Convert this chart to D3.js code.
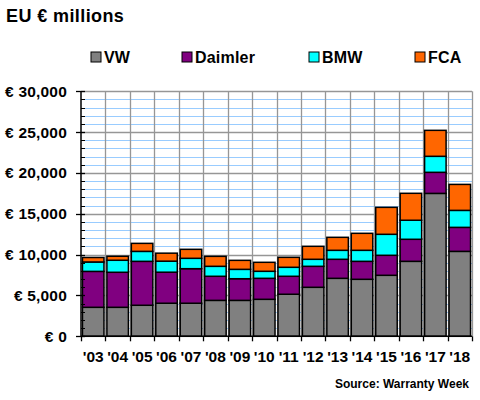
<!DOCTYPE html>
<html><head><meta charset="utf-8">
<script src="https://cdn.jsdelivr.net/npm/d3@7"></script>
<style>body{margin:0;background:#fff}svg{display:block}text{font-family:"Liberation Sans",Arial,sans-serif;font-weight:bold}</style>
</head><body><svg id="c" width="480" height="400"></svg>
<script>
const years = ["'03","'04","'05","'06","'07","'08","'09","'10","'11","'12","'13","'14","'15","'16","'17","'18"];
const vw      = [3550,3550,3800,4050,4050,4400,4400,4530,5150,6000,7100,6980,7470,9180,17500,10400];
const daimler = [4400,4290,5380,3800,4230,2950,2650,2570,2200,2570,2330,2200,2450,2700,2580,2940];
const bmw     = [1150,1470,1220,1350,1270,1220,1150, 860,1100, 860,1100,1350,2570,2330,1960,2080];
const fca     = [ 550, 490, 980, 980,1100,1220,1100,1100,1220,1590,1590,2080,3300,3300,3180,3180];
const seriesNames = ["VW","Daimler","BMW","FCA"];
const colors = ["#808080","#800080","#00FFFF","#FF6600"];
const yTicks = [0,5000,10000,15000,20000,25000,30000];

const svg = d3.select("#c");
const L=81, R=472, T=91.3, B=336.3;
const x = d3.scaleBand().domain(years).range([L,R]).paddingInner(0.12).paddingOuter(0.06);
const xb = d3.scaleBand().domain(years).range([L,R]);
const y = d3.scaleLinear().domain([0,30000]).range([B,T]);

const table = years.map((yr,i)=>({year:yr,VW:vw[i],Daimler:daimler[i],BMW:bmw[i],FCA:fca[i]}));
const stack = d3.stack().keys(seriesNames)(table);

// minor gridlines
const minor = d3.range(1000,30001,1000).filter(v=>v%5000!==0);
svg.append("g").selectAll("line").data(minor).join("line")
  .attr("x1",L).attr("x2",R).attr("y1",d=>Math.round(y(d))+0.5).attr("y2",d=>Math.round(y(d))+0.5)
  .attr("stroke","#99CCFF").attr("stroke-width",1);
// vertical gridlines
svg.append("g").selectAll("line").data(years).join("line")
  .attr("x1",(d,i)=>Math.round(L+(i+1)*xb.bandwidth())+0.5).attr("x2",(d,i)=>Math.round(L+(i+1)*xb.bandwidth())+0.5)
  .attr("y1",T).attr("y2",B).attr("stroke","#969696").attr("stroke-width",1.3);
// major gridlines
svg.append("g").selectAll("line").data(yTicks.filter(v=>v>0)).join("line")
  .attr("x1",L).attr("x2",R).attr("y1",d=>Math.round(y(d))+0.5).attr("y2",d=>Math.round(y(d))+0.5)
  .attr("stroke","#969696").attr("stroke-width",1.3);

// bars
svg.append("g").selectAll("g").data(stack).join("g")
  .attr("fill",(d,i)=>colors[i])
  .selectAll("rect").data(d=>d).join("rect")
  .attr("x",d=>x(d.data.year)).attr("width",x.bandwidth())
  .attr("y",d=>y(d[1])).attr("height",d=>y(d[0])-y(d[1]))
  .attr("stroke","#000").attr("stroke-width",1.5);

// y axis
const ya = svg.append("g");
ya.append("line").attr("x1",L).attr("x2",L).attr("y1",T).attr("y2",B).attr("stroke","#000").attr("stroke-width",1.5);
ya.selectAll(".mn").data(minor).join("line").attr("class","mn")
  .attr("x1",L).attr("x2",L+4).attr("y1",d=>Math.round(y(d))+0.5).attr("y2",d=>Math.round(y(d))+0.5).attr("stroke","#000");
ya.selectAll(".mj").data(yTicks).join("line").attr("class","mj")
  .attr("x1",L-5).attr("x2",L+4).attr("y1",d=>Math.round(y(d))+0.5).attr("y2",d=>Math.round(y(d))+0.5).attr("stroke","#000").attr("stroke-width",1.3);
ya.selectAll("text").data(yTicks).join("text")
  .attr("x",67).attr("y",d=>y(d)+5.5).attr("text-anchor","end").attr("font-size",15.5).attr("letter-spacing",0.2)
  .text(d=>"€ "+d3.format(",")(d));

// x axis
const xa = svg.append("g");
xa.append("line").attr("x1",L).attr("x2",R).attr("y1",B).attr("y2",B).attr("stroke","#000").attr("stroke-width",1.5);
xa.selectAll(".tk").data(d3.range(0,years.length+1)).join("line").attr("class","tk")
  .attr("x1",d=>Math.round(L+d*xb.bandwidth())+0.5).attr("x2",d=>Math.round(L+d*xb.bandwidth())+0.5)
  .attr("y1",B).attr("y2",B+5).attr("stroke","#000").attr("stroke-width",1.3);
xa.selectAll("text").data(years).join("text")
  .attr("x",d=>xb(d)+xb.bandwidth()/2).attr("y",362).attr("text-anchor","middle").attr("font-size",15.5)
  .text(d=>d);

// title
svg.append("text").attr("x",6).attr("y",22).attr("font-size",18).attr("letter-spacing",0.4).text("EU € millions");
// legend
const legX = [91,182,309,415];
const lg = svg.append("g");
seriesNames.forEach((n,i)=>{
  lg.append("rect").attr("x",legX[i]).attr("y",52).attr("width",10).attr("height",10)
    .attr("fill",colors[i]).attr("stroke","#000").attr("stroke-width",1);
  lg.append("text").attr("x",legX[i]+13).attr("y",63).attr("font-size",16).attr("letter-spacing",0.2).text(n);
});
// source
svg.append("text").attr("x",469).attr("y",388).attr("text-anchor","end").attr("font-size",12).text("Source: Warranty Week");
</script></body></html>
